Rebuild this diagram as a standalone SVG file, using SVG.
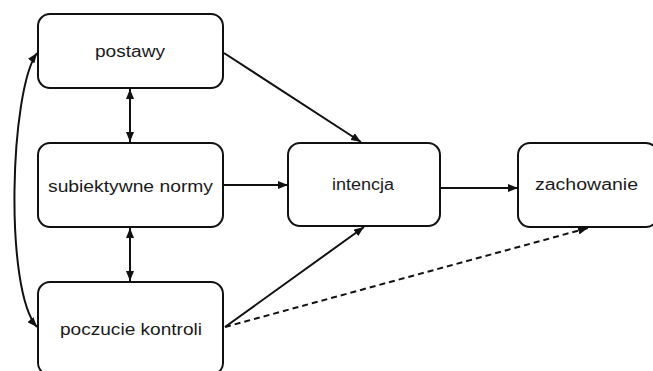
<svg xmlns="http://www.w3.org/2000/svg" width="653" height="371" viewBox="0 0 653 371">
<defs>
<marker id="ah" viewBox="0 0 10 8" refX="10" refY="4" markerWidth="10" markerHeight="8" markerUnits="userSpaceOnUse" orient="auto-start-reverse">
<path d="M0,0 L10,4 L0,8 Z" fill="#111"/>
</marker>
<style>
.box{fill:#fff;stroke:#111;stroke-width:2}
.lbl{font-family:"Liberation Sans",Arial,sans-serif;font-size:16px;fill:#1a1a1a;text-anchor:middle}
.c{fill:none;stroke:#111;stroke-width:2}
.d{stroke-dasharray:6,4}
</style>
</defs>
<rect width="653" height="371" fill="#fff"/>
<g id="postawy"><rect class="box" x="38" y="14" width="185" height="74" rx="12"/><text class="lbl" x="130" y="57" textLength="70" lengthAdjust="spacingAndGlyphs">postawy</text></g>
<g id="normy"><rect class="box" x="38" y="143" width="185" height="84" rx="12"/><text class="lbl" x="130.5" y="192" textLength="165" lengthAdjust="spacingAndGlyphs">subiektywne normy</text></g>
<g id="kontrola"><rect class="box" x="38" y="282" width="185" height="93" rx="12"/><text class="lbl" x="131" y="335" textLength="142" lengthAdjust="spacingAndGlyphs">poczucie kontroli</text></g>
<g id="intencja"><rect class="box" x="288" y="143" width="152" height="83" rx="12"/><text class="lbl" x="363" y="190" textLength="62" lengthAdjust="spacingAndGlyphs">intencja</text></g>
<g id="zachowanie"><rect class="box" x="518" y="143" width="140" height="84" rx="12"/><text class="lbl" x="586.5" y="190" textLength="103" lengthAdjust="spacingAndGlyphs">zachowanie</text></g>
<g id="connectors">
<path class="c" d="M224,53 L361,142" marker-end="url(#ah)"/>
<path class="c" d="M224,185 L288,185" marker-end="url(#ah)"/>
<path class="c" d="M225,327 L364,227" marker-end="url(#ah)"/>
<path class="c d" d="M225,327 L588,228" marker-end="url(#ah)"/>
<path class="c" d="M441,188 L518,188" marker-end="url(#ah)"/>
<path class="c" d="M130,89 L130,142" marker-start="url(#ah)" marker-end="url(#ah)"/>
<path class="c" d="M130,228 L130,281" marker-start="url(#ah)" marker-end="url(#ah)"/>
<path class="c" d="M37,53 C10,90 4,290 37,327" marker-start="url(#ah)" marker-end="url(#ah)"/>
</g>
</svg>
